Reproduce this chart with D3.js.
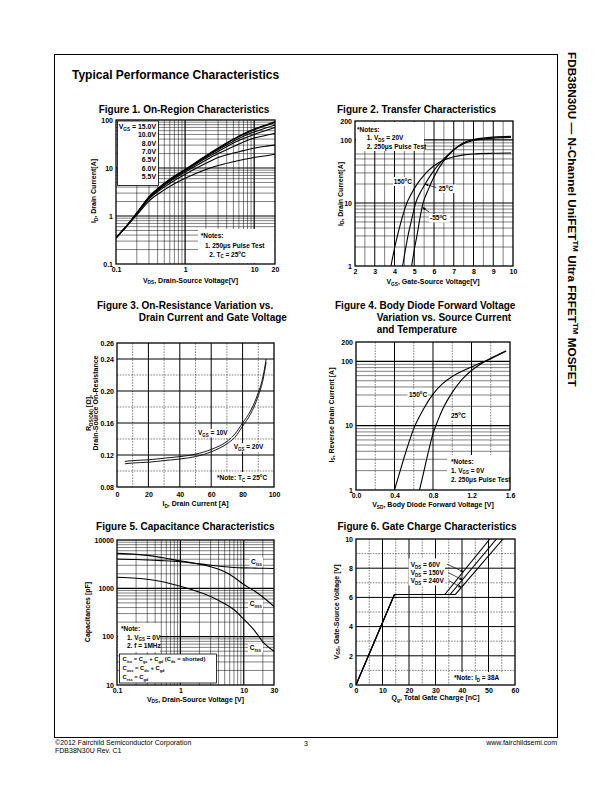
<!DOCTYPE html>
<html><head><meta charset="utf-8">
<script src="https://cdn.jsdelivr.net/npm/d3@7"></script>
<style>body{margin:0;background:#fff}</style>
</head><body>
<script>
// ================= DATA =================
// Figure 1: On-Region Characteristics (ID vs VDS for several VGS)
const fig1Vds   = [0.1, 0.15, 0.2, 0.3, 0.5, 0.7, 1, 2, 3, 5, 7, 10, 15, 20];
const fig1Id15  = [0.35, 0.68, 1.15, 2.5, 4.8, 6.8, 9.3, 18, 26, 40, 52, 65, 80, 92];
const fig1Id10  = [0.35, 0.68, 1.15, 2.5, 4.7, 6.7, 9.2, 17.5, 25, 39, 50, 62, 77, 89];
const fig1Id8   = [0.35, 0.68, 1.15, 2.45, 4.6, 6.5, 9.0, 17, 24, 36, 46, 56, 69, 79];
const fig1Id7   = [0.35, 0.68, 1.15, 2.4, 4.5, 6.3, 8.7, 16, 22, 33, 41, 50, 61, 70];
const fig1Id65  = [0.35, 0.68, 1.13, 2.35, 4.3, 6.0, 8.2, 14.5, 20, 28, 35, 42, 48, 53];
const fig1Id6   = [0.35, 0.67, 1.1, 2.25, 4.0, 5.5, 7.4, 12.5, 16.5, 20.5, 23, 26, 28.5, 30];
const fig1Id55  = [0.35, 0.66, 1.05, 2.05, 3.5, 4.7, 6.1, 9.3, 11.3, 13.5, 15, 16.5, 18, 19.3];
const fig1Legend = ["15.0V", "10.0V", "8.0V", "7.0V", "6.5V", "6.0V", "5.5V"];
const fig1XTicks = [0.1, 1, 10, 20];
const fig1YTicks = [0.1, 1, 10, 100];

// Figure 2: Transfer Characteristics
const fig2Vgs150 = [3.82, 4.0, 4.2, 4.4, 4.6, 4.8, 5.1, 5.6, 6.0, 6.5, 7.0, 7.5, 8.0, 9.0, 9.9];
const fig2Id150  = [1, 1.9, 3.5, 6, 9.5, 13, 19, 30, 39, 48, 54, 58, 60, 61.5, 62];
const fig2Vgs25  = [4.41, 4.55, 4.7, 4.9, 5.07, 5.3, 5.55, 6.0, 6.5, 7.0, 7.5, 8.0, 9.0, 9.9];
const fig2Id25   = [1, 1.8, 3.2, 6, 10, 14.5, 20, 33, 50, 70, 87, 98, 107, 110];
const fig2VgsM55 = [4.87, 5.0, 5.15, 5.3, 5.45, 5.7, 6.0, 6.5, 7.0, 7.5, 8.0, 9.0, 9.9];
const fig2IdM55  = [1, 1.8, 3.2, 6, 10, 16, 26, 47, 70, 90, 102, 111, 114];
const fig2XTicks = [2, 3, 4, 5, 6, 7, 8, 9, 10];
const fig2YTicks = [1, 10, 100, 200];

// Figure 3: On-Resistance vs Drain Current
const fig3Id    = [5, 10, 20, 30, 40, 50, 60, 70, 75, 80, 85, 90, 93, 95];
const fig3R10   = [0.112, 0.113, 0.114, 0.116, 0.118, 0.121, 0.127, 0.137, 0.146, 0.160, 0.175, 0.198, 0.218, 0.240];
const fig3R20   = [0.109, 0.110, 0.111, 0.113, 0.115, 0.118, 0.124, 0.134, 0.142, 0.156, 0.171, 0.194, 0.214, 0.236];
const fig3XTicks = [0, 20, 40, 60, 80, 100];
const fig3YTicks = [0.08, 0.12, 0.16, 0.20, 0.24, 0.26];

// Figure 4: Body Diode Forward Voltage
const fig4Vsd150 = [0.40, 0.45, 0.5, 0.55, 0.6, 0.7, 0.8, 0.9, 1.0, 1.1, 1.2, 1.3, 1.4, 1.5, 1.56];
const fig4Is150  = [1, 1.8, 3.2, 5.5, 9, 18, 31, 45, 58, 70, 82, 95, 110, 130, 145];
const fig4Vsd25  = [0.66, 0.7, 0.75, 0.8, 0.85, 0.9, 1.0, 1.1, 1.2, 1.3, 1.4, 1.5, 1.56];
const fig4Is25   = [1, 1.8, 3.8, 7.5, 12, 18, 33, 52, 72, 92, 112, 132, 145];
const fig4XTicks = [0, 0.4, 0.8, 1.2, 1.6];
const fig4YTicks = [1, 10, 100, 200];

// Figure 5: Capacitance Characteristics
const fig5Vds  = [0.1, 0.2, 0.3, 0.5, 1, 2, 3, 5, 7, 10, 15, 20, 30];
const fig5Ciss = [5300, 5050, 4800, 4350, 3700, 3200, 3000, 2800, 2700, 2650, 2620, 2600, 2580];
const fig5Coss = [4050, 3950, 3850, 3750, 3550, 3150, 2800, 2200, 1700, 1200, 870, 660, 420];
const fig5Crss = [1700, 1620, 1540, 1380, 1100, 830, 680, 480, 360, 230, 130, 78, 50];
const fig5XTicks = [0.1, 1, 10, 30];
const fig5YTicks = [10, 100, 1000, 10000];

// Figure 6: Gate Charge Characteristics
const fig6Qg60  = [0, 14.5, 33.5, 50.5];
const fig6Qg150 = [0, 14.5, 35.5, 53.0];
const fig6Qg240 = [0, 14.5, 37.5, 55.5];
const fig6Vgs   = [0, 6.2, 6.2, 10];
const fig6XTicks = [0, 10, 20, 30, 40, 50, 60];
const fig6YTicks = [0, 2, 4, 6, 8, 10];

// ================= RENDER =================
const FONT = "'Liberation Sans', Arial, Helvetica, sans-serif";
const svg = d3.select('body').append('svg')
  .attr('width', 612).attr('height', 792).attr('font-family', FONT);
svg.append('rect').attr('width', 612).attr('height', 792).attr('fill', '#fff');

const defs = svg.append('defs');
defs.append('marker').attr('id', 'arr').attr('viewBox', '0 0 10 10')
  .attr('refX', 9).attr('refY', 5).attr('markerWidth', 5).attr('markerHeight', 5)
  .attr('orient', 'auto')
  .append('path').attr('d', 'M0,1 L10,5 L0,9 Z').attr('fill', '#000');

function parseRich(s) {
  const segs = []; let i = 0, buf = '';
  while (i < s.length) {
    if ((s[i] === '_' || s[i] === '^') && s[i + 1] === '{') {
      if (buf) { segs.push([buf, 'n']); buf = ''; }
      const end = s.indexOf('}', i);
      segs.push([s.slice(i + 2, end), s[i] === '_' ? 'sub' : 'sup']);
      i = end + 1;
    } else { buf += s[i]; i++; }
  }
  if (buf) segs.push([buf, 'n']);
  return segs;
}

function rich(g, x, y, str, o = {}) {
  const fs = o.size || 7;
  const t = g.append('text').attr('font-size', fs)
    .attr('font-weight', o.weight || 'bold')
    .attr('text-anchor', o.anchor || 'start').attr('fill', '#000');
  if (o.rotate) t.attr('transform', `translate(${x},${y}) rotate(${o.rotate})`);
  else t.attr('x', x).attr('y', y);
  let shift = 0;
  parseRich(str).forEach(([s, k]) => {
    const ts = t.append('tspan').text(s);
    const target = k === 'sub' ? fs * 0.28 : k === 'sup' ? -fs * 0.42 : 0;
    if (target !== shift) ts.attr('dy', target - shift);
    if (k !== 'n') ts.attr('font-size', fs * 0.68);
    shift = target;
  });
  return t;
}

function whiteBox(g, x0, y0, x1, y1, stroke) {
  g.append('rect').attr('x', x0).attr('y', y0).attr('width', x1 - x0).attr('height', y1 - y0)
    .attr('fill', '#fff').attr('stroke', stroke ? '#000' : 'none').attr('stroke-width', 0.8);
}

function logGridVals(dom) {
  const out = [];
  const lo = Math.floor(Math.log10(dom[0])), hi = Math.ceil(Math.log10(dom[1]));
  for (let e = lo; e <= hi; e++) for (let m = 1; m <= 9; m++) {
    const v = m * Math.pow(10, e);
    if (v > dom[0] * 1.0001 && v < dom[1] * 0.9999) out.push({ v, major: m === 1 });
  }
  return out;
}
function linGridVals(dom, minor, major) {
  const out = []; const n = Math.round((dom[1] - dom[0]) / minor);
  for (let i = 1; i < n; i++) {
    const v = dom[0] + i * minor; const r = (v - dom[0]) / major;
    out.push({ v, major: Math.abs(r - Math.round(r)) < 1e-6 });
  }
  return out;
}

let clipId = 0;
function makeChart(c) {
  const g = svg.append('g');
  const x = (c.xType === 'log' ? d3.scaleLog() : d3.scaleLinear()).domain(c.xDom).range([c.L, c.R]);
  const y = (c.yType === 'log' ? d3.scaleLog() : d3.scaleLinear()).domain(c.yDom).range([c.B, c.T]);
  const xg = c.xType === 'log' ? logGridVals(c.xDom) : linGridVals(c.xDom, c.xMinor, c.xMajor);
  const yg = c.yType === 'log' ? logGridVals(c.yDom) : linGridVals(c.yDom, c.yMinor, c.yMajor);
  const grid = g.append('g');
  const minorStyle = (sel, solid) => {
    sel.attr('stroke', '#000').attr('stroke-width', 0.5);
    if (!solid) sel.attr('stroke-dasharray', '1.6,1.2');
  };
  xg.forEach(d => {
    const l = grid.append('line').attr('x1', x(d.v)).attr('x2', x(d.v)).attr('y1', c.T).attr('y2', c.B);
    if (d.major) l.attr('stroke', '#000').attr('stroke-width', c.xType === 'log' ? 1.2 : 1);
    else minorStyle(l, c.xType === 'log' || c.xSolidMinor);
  });
  yg.forEach(d => {
    const l = grid.append('line').attr('y1', y(d.v)).attr('y2', y(d.v)).attr('x1', c.L).attr('x2', c.R);
    if (d.major) l.attr('stroke', '#000').attr('stroke-width', c.yType === 'log' ? 1.2 : 1);
    else minorStyle(l, c.yType === 'log');
  });

  // axes (labels only)
  const ax = g.append('g').attr('transform', `translate(0,${c.B})`)
    .call(d3.axisBottom(x).tickValues(c.xTicks).tickSize(0).tickPadding(c.xPad || 3.5).tickFormat(c.xFmt));
  const ay = g.append('g').attr('transform', `translate(${c.L},0)`)
    .call(d3.axisLeft(y).tickValues(c.yTicks).tickSize(0).tickPadding(c.yPad || 3).tickFormat(c.yFmt));
  [ax, ay].forEach(a => {
    a.select('.domain').remove();
    a.selectAll('text').attr('font-size', 7).attr('font-weight', 'bold')
      .attr('font-family', FONT).attr('fill', '#000');
  });

  const id = 'clip' + (clipId++);
  defs.append('clipPath').attr('id', id).append('rect')
    .attr('x', c.L).attr('y', c.T).attr('width', c.R - c.L).attr('height', c.B - c.T);
  const plot = g.append('g').attr('clip-path', `url(#${id})`);
  const line = d3.line().x(d => x(d[0])).y(d => y(d[1])).curve(c.curve || d3.curveMonotoneX);
  c.series.forEach(s => {
    plot.append('path').datum(d3.zip(s.x, s.y)).attr('d', line)
      .attr('fill', 'none').attr('stroke', '#000').attr('stroke-width', s.w || 1.1);
  });
  const over = g.append('g');
  g.append('rect').attr('x', c.L).attr('y', c.T).attr('width', c.R - c.L).attr('height', c.B - c.T)
    .attr('fill', 'none').attr('stroke', '#000').attr('stroke-width', 1.3);
  return { g: over, x, y };
}

function arrow(ch, p0, p1) {
  ch.g.append('line').attr('x1', ch.x(p0[0])).attr('y1', ch.y(p0[1]))
    .attr('x2', ch.x(p1[0])).attr('y2', ch.y(p1[1]))
    .attr('stroke', '#000').attr('stroke-width', 0.7).attr('marker-end', 'url(#arr)');
}

// ---------- page frame ----------
svg.append('rect').attr('x', 54.5).attr('y', 54.5).attr('width', 503).attr('height', 683)
  .attr('fill', 'none').attr('stroke', '#000').attr('stroke-width', 1);
rich(svg, 72, 78.5, 'Typical Performance Characteristics', { size: 12 });

// side title
const side = rich(svg, 568, 52, 'FDB38N30U — N-Channel UniFET^{TM} Ultra FRFET^{TM} MOSFET', { size: 11.5, rotate: 90 });
{
  const len = side.node().getComputedTextLength();
  const fs = 11.5 * 335 / len;
  side.attr('font-size', fs);
  side.selectAll('tspan').each(function () {
    const t = d3.select(this);
    if (t.attr('font-size')) t.attr('font-size', fs * 0.68);
    if (t.attr('dy')) t.attr('dy', (+t.attr('dy')) * fs / 11.5);
  });
}

// footer
rich(svg, 55, 745, '©2012 Fairchild Semiconductor Corporation', { size: 7, weight: 'normal' });
rich(svg, 55, 753, 'FDB38N30U Rev. C1', { size: 7, weight: 'normal' });
rich(svg, 306, 745.5, '3', { size: 7, weight: 'normal', anchor: 'middle' });
rich(svg, 557, 745, 'www.fairchildsemi.com', { size: 7, weight: 'normal', anchor: 'end' });

// ---------- Figure 1 ----------
rich(svg, 184, 112.5, 'Figure 1. On-Region Characteristics', { size: 10, anchor: 'middle' });
const c1 = makeChart({
  L: 116, R: 275, T: 120, B: 264, xType: 'log', yType: 'log', xDom: [0.1, 20], yDom: [0.1, 100],
  xTicks: fig1XTicks, yTicks: fig1YTicks, xFmt: d => String(d), yFmt: d => String(d),
  series: [fig1Id15, fig1Id10, fig1Id8, fig1Id7, fig1Id65, fig1Id6, fig1Id55].map(a => ({ x: fig1Vds, y: a }))
});
whiteBox(c1.g, 117.5, 121, 158.5, 185.5, true);
fig1Legend.forEach((t, i) => rich(c1.g, 156, 128.8 + i * 8.4, (i === 0 ? 'V_{GS} = ' : '') + t, { size: 6.9, anchor: 'end' }));
whiteBox(c1.g, 198, 229, 274.3, 263.3, false);
rich(c1.g, 200.7, 237.5, '*Notes:', { size: 6.5 });
rich(c1.g, 205, 248, '1. 250μs Pulse Test', { size: 6.5 });
rich(c1.g, 209.3, 256.5, '2. T_{C} = 25^{o}C', { size: 6.5 });
rich(svg, 190.5, 282.5, 'V_{DS}, Drain-Source Voltage[V]', { size: 7, anchor: 'middle' });
rich(svg, 96, 191, 'I_{D}, Drain Current[A]', { size: 7, anchor: 'middle', rotate: -90 });

// ---------- Figure 2 ----------
rich(svg, 416.5, 112.5, 'Figure 2. Transfer Characteristics', { size: 10, anchor: 'middle' });
const c2 = makeChart({
  L: 355, R: 513, T: 121, B: 266, xType: 'lin', yType: 'log', xDom: [2, 10], yDom: [1, 200],
  xMinor: 0.5, xMajor: 1, xSolidMinor: true,
  xTicks: fig2XTicks, yTicks: fig2YTicks, xFmt: d => String(d), yFmt: d => String(d),
  series: [
    { x: fig2Vgs150, y: fig2Id150 }, { x: fig2Vgs25, y: fig2Id25 }, { x: fig2VgsM55, y: fig2IdM55 }
  ]
});
whiteBox(c2.g, 356, 122, 424, 151, false);
rich(c2.g, 357, 132, '*Notes:', { size: 6.5 });
rich(c2.g, 366.7, 140.3, '1. V_{DS} = 20V', { size: 6.5 });
rich(c2.g, 366.7, 148.6, '2. 250μs Pulse Test', { size: 6.5 });
whiteBox(c2.g, 393, 177, 412.5, 186, false);
rich(c2.g, 402.8, 183.6, '150^{o}C', { size: 6.5, anchor: 'middle' });
whiteBox(c2.g, 437.5, 184.5, 456, 193, false);
rich(c2.g, 438.5, 191, '25^{o}C', { size: 6.5 });
arrow(c2, [6.12, 17.5], [5.55, 20]);
whiteBox(c2.g, 429, 214, 450, 222.5, false);
rich(c2.g, 430, 220.3, '-55^{o}C', { size: 6.5 });
arrow(c2, [5.75, 7.2], [5.42, 8.5]);
rich(svg, 433, 284, 'V_{GS}, Gate-Source Voltage[V]', { size: 7, anchor: 'middle' });
rich(svg, 342.5, 194, 'I_{D}, Drain Current[A]', { size: 7, anchor: 'middle', rotate: -90 });

// ---------- Figure 3 ----------
{
  rich(svg, 97, 308.5, 'Figure 3. On-Resistance Variation vs.', { size: 10 });
  const tmp = rich(svg, 0, -50, 'Figure 3. ', { size: 10 });
  const ind = tmp.node().getComputedTextLength(); tmp.remove();
  rich(svg, 97 + ind, 321, 'Drain Current and Gate Voltage', { size: 10 });
}
const c3 = makeChart({
  L: 117, R: 274, T: 343, B: 487, xType: 'lin', yType: 'lin', xDom: [0, 100], yDom: [0.08, 0.26],
  xMinor: 10, xMajor: 20, yMinor: 0.02, yMajor: 0.04, xPad: 5.5,
  xTicks: fig3XTicks, yTicks: fig3YTicks, xFmt: d => String(d), yFmt: d3.format('.2f'),
  series: [{ x: fig3Id, y: fig3R10, w: 0.9 }, { x: fig3Id, y: fig3R20, w: 0.9 }]
});
whiteBox(c3.g, 196.5, 429, 232, 437.5, false);
rich(c3.g, 198, 435, 'V_{GS} = 10V', { size: 6.5 });
whiteBox(c3.g, 232, 443, 268, 451.5, false);
rich(c3.g, 233.7, 449, 'V_{GS} = 20V', { size: 6.5 });
whiteBox(c3.g, 214, 472, 273.3, 486.3, false);
rich(c3.g, 217, 480, '*Note: T_{C} = 25^{o}C', { size: 6.5 });
rich(svg, 195.5, 506, 'I_{D}, Drain Current [A]', { size: 7, anchor: 'middle' });
rich(svg, 91, 413, 'R_{DS(ON)} [Ω],', { size: 7, anchor: 'middle', rotate: -90 });
rich(svg, 98, 403, 'Drain-Source On-Resistance', { size: 7, anchor: 'middle', rotate: -90 });

// ---------- Figure 4 ----------
{
  rich(svg, 335, 308.5, 'Figure 4. Body Diode Forward Voltage', { size: 10 });
  const tmp = rich(svg, 0, -50, 'Figure 4. ', { size: 10 });
  const ind = tmp.node().getComputedTextLength(); tmp.remove();
  rich(svg, 335 + ind, 321, 'Variation vs. Source Current', { size: 10 });
  rich(svg, 335 + ind, 332.5, 'and Temperature', { size: 10 });
}
const c4 = makeChart({
  L: 356, R: 510, T: 342, B: 490, xType: 'lin', yType: 'log', xDom: [0, 1.6], yDom: [1, 200],
  xMinor: 0.2, xMajor: 0.4,
  xTicks: fig4XTicks, yTicks: fig4YTicks, xFmt: d3.format('.1f'), yFmt: d => String(d),
  series: [{ x: fig4Vsd150, y: fig4Is150 }, { x: fig4Vsd25, y: fig4Is25 }]
});
whiteBox(c4.g, 407.5, 390, 428, 398.5, false);
rich(c4.g, 409, 396.5, '150^{o}C', { size: 6.5 });
whiteBox(c4.g, 449.5, 411, 466, 419.5, false);
rich(c4.g, 451, 417.5, '25^{o}C', { size: 6.5 });
whiteBox(c4.g, 447, 455, 509.3, 489.3, false);
rich(c4.g, 451, 463.5, '*Notes:', { size: 6.5 });
rich(c4.g, 451, 472.5, '1. V_{GS} = 0V', { size: 6.5 });
rich(c4.g, 451, 481.5, '2. 250μs Pulse Test', { size: 6.5 });
rich(svg, 433, 507, 'V_{SD}, Body Diode Forward Voltage [V]', { size: 7, anchor: 'middle' });
rich(svg, 333.5, 415, 'I_{S}, Reverse Drain Current [A]', { size: 7, anchor: 'middle', rotate: -90 });

// ---------- Figure 5 ----------
rich(svg, 185.3, 529.5, 'Figure 5. Capacitance Characteristics', { size: 10, anchor: 'middle' });
const c5 = makeChart({
  L: 117, R: 274, T: 540, B: 685, xType: 'log', yType: 'log', xDom: [0.1, 30], yDom: [10, 10000],
  xTicks: fig5XTicks, yTicks: fig5YTicks, xFmt: d => String(d), yFmt: d => String(d),
  series: [{ x: fig5Vds, y: fig5Ciss }, { x: fig5Vds, y: fig5Coss }, { x: fig5Vds, y: fig5Crss }]
});
whiteBox(c5.g, 249.5, 557.5, 263, 566.5, false);
rich(c5.g, 251, 564, 'C_{iss}', { size: 6.5 });
whiteBox(c5.g, 248, 600, 263, 609, false);
rich(c5.g, 249.7, 606.3, 'C_{oss}', { size: 6.5 });
whiteBox(c5.g, 248, 643.5, 263, 652.5, false);
rich(c5.g, 249.7, 650, 'C_{rss}', { size: 6.5 });
whiteBox(c5.g, 118, 623, 160, 652, false);
rich(c5.g, 121, 631.3, '*Note:', { size: 6.5 });
rich(c5.g, 127, 639.5, '1. V_{GS} = 0V', { size: 6.5 });
rich(c5.g, 127, 648.3, '2. f = 1MHz', { size: 6.5 });
whiteBox(c5.g, 119.5, 654, 216.5, 683, true);
rich(c5.g, 122.5, 661.3, 'C_{iss} = C_{gs} + C_{gd} (C_{ds} = shorted)', { size: 5.8 });
rich(c5.g, 122.5, 670.3, 'C_{oss} = C_{ds} + C_{gd}', { size: 5.8 });
rich(c5.g, 122.5, 679, 'C_{rss} = C_{gd}', { size: 5.8 });
rich(svg, 195.5, 701.5, 'V_{DS}, Drain-Source Voltage [V]', { size: 7, anchor: 'middle' });
rich(svg, 90, 612, 'Capacitances [pF]', { size: 7, anchor: 'middle', rotate: -90 });

// ---------- Figure 6 ----------
rich(svg, 427, 529.5, 'Figure 6. Gate Charge Characteristics', { size: 10, anchor: 'middle' });
const c6 = makeChart({
  L: 356, R: 515, T: 539, B: 685, xType: 'lin', yType: 'lin', xDom: [0, 60], yDom: [0, 10],
  xMinor: 5, xMajor: 10, yMinor: 1, yMajor: 2, curve: d3.curveLinear,
  xTicks: fig6XTicks, yTicks: fig6YTicks, xFmt: d => String(d), yFmt: d => String(d),
  series: [{ x: fig6Qg60, y: fig6Vgs }, { x: fig6Qg150, y: fig6Vgs }, { x: fig6Qg240, y: fig6Vgs }]
});
whiteBox(c6.g, 408.5, 558.5, 445, 585.5, false);
rich(c6.g, 410.7, 567.3, 'V_{DS} = 60V', { size: 6.5 });
rich(c6.g, 410.7, 575, 'V_{DS} = 150V', { size: 6.5 });
rich(c6.g, 410.7, 583, 'V_{DS} = 240V', { size: 6.5 });
arrow(c6, [34.3, 8.28], [40.6, 7.75]);
arrow(c6, [34.8, 7.7], [40.2, 7.2]);
arrow(c6, [35.0, 7.15], [39.8, 6.68]);
whiteBox(c6.g, 451, 672, 514.3, 684.3, false);
rich(c6.g, 454, 680, '*Note: I_{D} = 38A', { size: 6.5 });
rich(svg, 435.5, 700, 'Q_{g}, Total Gate Charge [nC]', { size: 7, anchor: 'middle' });
rich(svg, 338.5, 612, 'V_{GS}, Gate-Source Voltage [V]', { size: 7, anchor: 'middle', rotate: -90 });
</script>
</body></html>
